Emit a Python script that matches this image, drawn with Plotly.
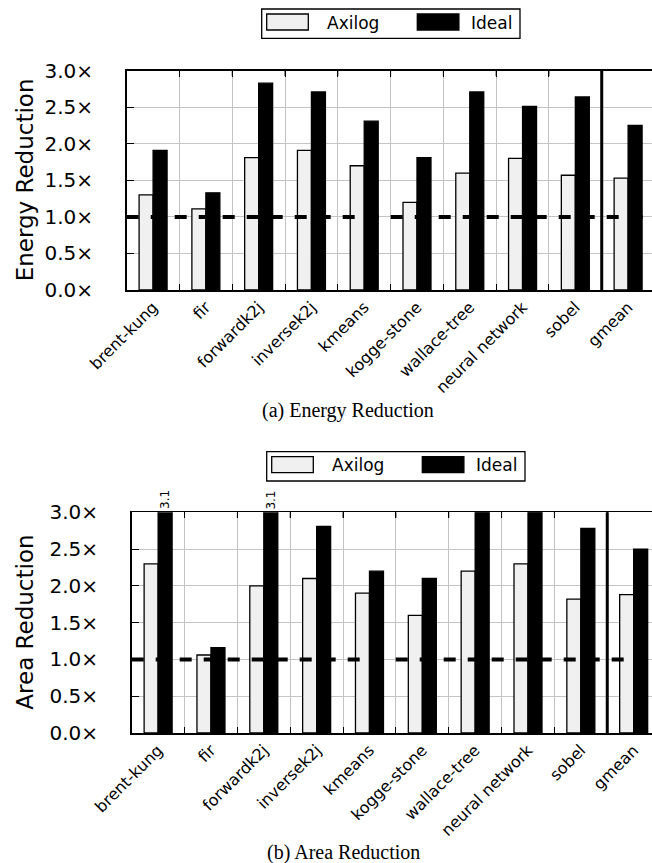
import plotly.graph_objects as go

categories = ["brent-kung", "fir", "forwardk2j", "inversek2j", "kmeans",
              "kogge-stone", "wallace-tree", "neural network", "sobel", "gmean"]
series_names = ["Axilog", "Ideal"]
energy_axilog = [1.30, 1.11, 1.81, 1.91, 1.70, 1.20, 1.60, 1.80, 1.57, 1.53]
energy_ideal = [1.91, 1.33, 2.83, 2.71, 2.31, 1.81, 2.71, 2.51, 2.64, 2.25]
area_axilog = [2.30, 1.06, 2.00, 2.10, 1.90, 1.60, 2.20, 2.30, 1.82, 1.88]
area_ideal = [3.10, 1.16, 3.10, 2.81, 2.20, 2.10, 3.00, 3.00, 2.78, 2.50]
y_tickvals = [0.0, 0.5, 1.0, 1.5, 2.0, 2.5, 3.0]
y_ticktext = ["%.1f×" % v for v in y_tickvals]
y_max = 3.0
baseline = 1.0
captions = ["(a) Energy Reduction", "(b) Area Reduction"]
ytitles = ["Energy Reduction", "Area Reduction"]

W, H = 652, 863
FONT = "DejaVu Sans"
AX_FILL = "#f0f0f0"
BARGAP = 0.47


def px(x):
    return x / W


def py(y):
    return 1 - y / H


xs = list(range(len(categories)))
fig = go.Figure()

panels = [
    dict(ax="", a=energy_axilog, i=energy_ideal, left=126.7, cw=52.78,
         top=70.7, bot=290.0, legx=261.7, legy=9.0, cap=(348, 410)),
    dict(ax="2", a=area_axilog, i=area_ideal, left=131.7, cw=52.84,
         top=512.3, bot=733.0, legx=266.7, legy=451.7, cap=(343, 852)),
]

shapes = []
annotations = []
for k, p in enumerate(panels):
    xa = "x" + p["ax"]
    ya = "y" + p["ax"]
    fig.add_trace(go.Bar(x=xs, y=p["a"], name=series_names[0], xaxis=xa, yaxis=ya,
                         marker=dict(color=AX_FILL, line=dict(color="black", width=1.3)),
                         showlegend=False))
    fig.add_trace(go.Bar(x=xs, y=p["i"], name=series_names[1], xaxis=xa, yaxis=ya,
                         marker=dict(color="black", line=dict(color="black", width=1.3)),
                         showlegend=False))
    xrange_end = -0.5 + (W - p["left"]) / p["cw"]
    axis_common = dict(showline=True, linecolor="black", linewidth=1.6, automargin=False)
    fig.layout["xaxis" + p["ax"]] = dict(
        domain=[px(p["left"]), 1.0], range=[-0.5, xrange_end], anchor=ya,
        tickmode="array", tickvals=xs, ticktext=categories, tickangle=-45,
        ticks="", showgrid=False, zeroline=False, mirror="allticks",
        tickfont=dict(family=FONT, size=16, color="black"),
        minor=dict(tickmode="array", tickvals=[v + 0.5 for v in xs],
                   ticks="inside", ticklen=6, tickcolor="black", tickwidth=1,
                   showgrid=True, gridcolor="#c4c4c4", gridwidth=1),
        **axis_common)
    fig.layout["yaxis" + p["ax"]] = dict(
        domain=[py(p["bot"]), py(p["top"])], range=[0, y_max], anchor=xa,
        tickmode="array", tickvals=y_tickvals, ticktext=y_ticktext,
        ticks="inside", ticklen=7, tickcolor="black", tickwidth=1,
        ticklabelstandoff=28,
        showgrid=True, gridcolor="#c4c4c4", gridwidth=1, zeroline=False,
        tickfont=dict(family=FONT, size=20, color="black"),
        **axis_common)
    # top tick marks at category boundaries
    for b in xs[:-1]:
        shapes.append(dict(type="line", xref=xa, x0=b + 0.5, x1=b + 0.5,
                           yref=ya + " domain", y0=1, y1=0.975, layer="above",
                           line=dict(color="black", width=1)))
    # baseline dashed line
    shapes.append(dict(type="line", xref=xa + " domain", x0=0, x1=1.02, yref=ya,
                       y0=baseline, y1=baseline, layer="above",
                       line=dict(color="black", width=4, dash="12px,12px")))
    # separator before gmean
    shapes.append(dict(type="line", xref=xa, x0=len(categories) - 1.5,
                       x1=len(categories) - 1.5, yref=ya + " domain", y0=0, y1=1,
                       layer="above", line=dict(color="black", width=3)))
    # out-of-range labels
    off = (1 - BARGAP) / 4
    for idx, v in enumerate(p["i"]):
        if v > y_max:
            annotations.append(dict(x=idx + off, y=y_max, xref=xa, yref=ya,
                                    text="%.1f" % v, textangle=-90, showarrow=False,
                                    yanchor="bottom", xanchor="center", yshift=1,
                                    font=dict(family=FONT, size=12, color="black")))
    # y title
    annotations.append(dict(x=px(25), y=py((p["top"] + p["bot"]) / 2), xref="paper",
                            yref="paper", text=ytitles[k], textangle=-90, showarrow=False,
                            xanchor="center", yanchor="middle",
                            font=dict(family=FONT, size=23, color="black")))
    # caption
    annotations.append(dict(x=px(p["cap"][0]), y=py(p["cap"][1]), xref="paper",
                            yref="paper", text=captions[k], showarrow=False,
                            xanchor="center", yanchor="middle",
                            font=dict(family="Liberation Serif", size=20, color="black")))
    # manual legend
    lx, ly = p["legx"], p["legy"]
    shapes.append(dict(type="rect", xref="paper", yref="paper", x0=px(lx), x1=px(lx + 258.3),
                       y0=py(ly), y1=py(ly + 29.3), line=dict(color="black", width=1.3),
                       fillcolor="white", layer="above"))
    sw = [(lx + 5, AX_FILL), (lx + 155.6, "black")]
    for (sx, col), name in zip(sw, series_names):
        shapes.append(dict(type="rect", xref="paper", yref="paper", x0=px(sx), x1=px(sx + 41.6),
                           y0=py(ly + 5), y1=py(ly + 21), fillcolor=col,
                           line=dict(color="black", width=1.3), layer="above"))
    annotations.append(dict(x=px(lx + 63.3), y=py(ly + 13.5), xref="paper", yref="paper",
                            text=series_names[0], showarrow=False, xanchor="left",
                            yanchor="middle", font=dict(family=FONT, size=17, color="black")))
    annotations.append(dict(x=px(lx + 252), y=py(ly + 13.5), xref="paper", yref="paper",
                            text=series_names[1], showarrow=False, xanchor="right",
                            yanchor="middle", font=dict(family=FONT, size=17, color="black")))

fig.update_layout(
    width=W, height=H, margin=dict(l=0, r=0, t=0, b=0, pad=0, autoexpand=False),
    barmode="group", bargap=BARGAP, bargroupgap=0,
    plot_bgcolor="white", paper_bgcolor="white",
    shapes=shapes, annotations=annotations,
    font=dict(family=FONT, color="black"),
    hovermode=False,
)

fig.write_html("out.html", config={"displayModeBar": False, "staticPlot": True},
               post_script="document.body.style.margin='0';document.body.style.overflow='hidden';")
